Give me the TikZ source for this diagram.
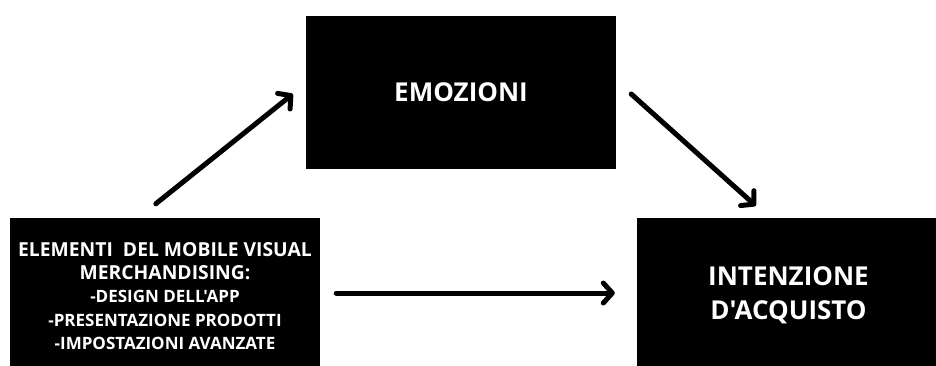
\documentclass[tikz,border=0pt]{standalone}
\usepackage{fontspec}
\setmainfont{Open Sans}[Ligatures=TeXOff]
\usetikzlibrary{arrows.meta,calc}
\begin{document}
\begin{tikzpicture}[x=1pt,y=-1pt,
  blackbox/.style={fill=black,draw=none,text=white,align=center,inner sep=0pt},
  arr/.style={line width=5pt,line cap=round,-{Straight Barb[length=9pt,width=20pt,line cap=round,line join=round]}}]
\clip (0,0) rectangle (936,365);
\useasboundingbox (0,0) rectangle (936,365);
\fill[white] (0,0) rectangle (936,365);
\node[blackbox,minimum width=310pt,minimum height=153pt,font=\bfseries\fontsize{26}{30}\selectfont] (E) at (461,92.5) {EMOZIONI};
\node[blackbox,minimum width=310pt,minimum height=156pt,font=\bfseries\fontsize{17}{23.3}\selectfont] (L) at (165,296)
  {{\fontsize{19.3}{23.3}\selectfont ELEMENTI\ \ DEL MOBILE VISUAL}\\
   {\fontsize{19.3}{23.3}\selectfont MERCHANDISING:}\\
   -DESIGN DELL'APP\\
   -PRESENTAZIONE PRODOTTI\\
   -IMPOSTAZIONI AVANZATE};
\node[blackbox,minimum width=303pt,minimum height=155pt,font=\bfseries\fontsize{26}{34}\selectfont] (R) at (788.5,295.5) {INTENZIONE\\D'ACQUISTO};
\draw[arr] ($(L.north west)+(146,-14)$) -- ($(E.west)+(-13,1.5)$);
\draw[arr] ($(E.east)+(15,1.5)$) -- ($(R.north west)+(119,-12)$);
\draw[arr] ($(L.east)+(16,-3)$) -- ($(R.west)+(-22,-2.5)$);
\end{tikzpicture}
\end{document}
